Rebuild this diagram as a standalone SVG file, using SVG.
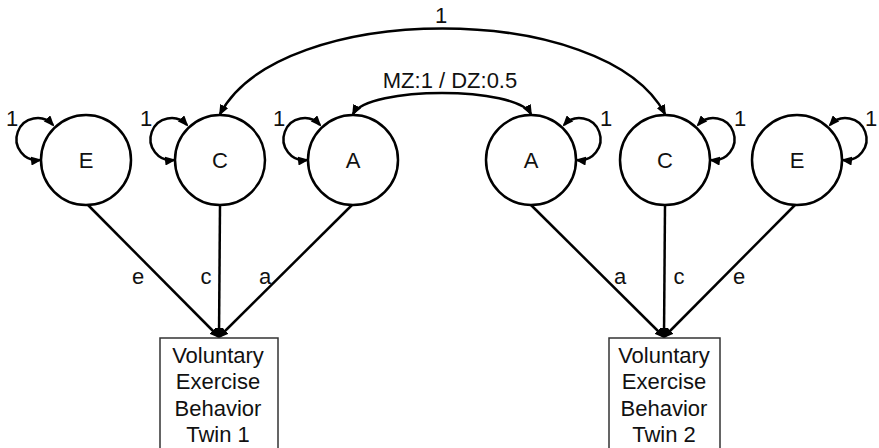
<svg xmlns="http://www.w3.org/2000/svg" width="879" height="448" viewBox="0 0 879 448">
<style>
.node circle{fill:#fff;stroke:#000;stroke-width:2.5}
.box rect{fill:#fff;stroke:#333;stroke-width:1.5}
text{font-family:"Liberation Sans",Arial,sans-serif;fill:#111;text-anchor:middle}
.lbl{font-size:22px}
.btxt{font-size:22px}
.edge{fill:none;stroke:#000;stroke-width:2.5}
.arr{marker-end:url(#ah)}
.dbl{marker-start:url(#ah);marker-end:url(#ah)}
</style>
<defs>
<marker id="ah" markerUnits="userSpaceOnUse" markerWidth="11" markerHeight="9" refX="9" refY="4.5" orient="auto-start-reverse" viewBox="0 0 11 9">
<path d="M0,0 L11,4.5 L0,9 z" fill="#000"/>
</marker>
</defs>
<rect width="879" height="448" fill="#fff"/>
<g id="connectors">
<path class="edge dbl" d="M53,125 A21,21 0 1 0 40,160"/>
<path class="edge dbl" d="M187,125 A21,21 0 1 0 174,160"/>
<path class="edge dbl" d="M320,125 A21,21 0 1 0 307,160"/>
<path class="edge dbl" d="M564,125 A21,21 0 1 1 577,160"/>
<path class="edge dbl" d="M698,125 A21,21 0 1 1 711,160"/>
<path class="edge dbl" d="M830,125 A21,21 0 1 1 843,160"/>
<path class="edge dbl" d="M220,114 C280,0 605,0 665,114"/>
<path class="edge dbl" d="M353,114 C368,86 516,86 531,114"/>
<path class="edge arr" d="M88,205 L219,337"/>
<path class="edge arr" d="M220,205 L219,337"/>
<path class="edge arr" d="M352,205 L219,337"/>
<path class="edge arr" d="M531,205 L664,337"/>
<path class="edge arr" d="M665,205 L664,337"/>
<path class="edge arr" d="M795,205 L664,337"/>
<text class="lbl" x="441" y="23">1</text>
<text class="lbl" x="450" y="88">MZ:1 / DZ:0.5</text>
<text class="lbl" x="12" y="126">1</text>
<text class="lbl" x="146" y="126">1</text>
<text class="lbl" x="279" y="126">1</text>
<text class="lbl" x="606" y="126">1</text>
<text class="lbl" x="740" y="126">1</text>
<text class="lbl" x="871" y="126">1</text>
<text class="lbl" x="138" y="284">e</text>
<text class="lbl" x="206" y="284">c</text>
<text class="lbl" x="265" y="284">a</text>
<text class="lbl" x="620" y="284">a</text>
<text class="lbl" x="679" y="284">c</text>
<text class="lbl" x="739" y="284">e</text>
</g>
<g id="E1" class="node"><circle cx="86" cy="160" r="45"/><text class="lbl" x="86" y="168">E</text></g>
<g id="C1" class="node"><circle cx="220" cy="160" r="45"/><text class="lbl" x="220" y="168">C</text></g>
<g id="A1" class="node"><circle cx="353" cy="160" r="45"/><text class="lbl" x="353" y="168">A</text></g>
<g id="A2" class="node"><circle cx="531" cy="160" r="45"/><text class="lbl" x="531" y="168">A</text></g>
<g id="C2" class="node"><circle cx="665" cy="160" r="45"/><text class="lbl" x="665" y="168">C</text></g>
<g id="E2" class="node"><circle cx="797" cy="160" r="45"/><text class="lbl" x="797" y="168">E</text></g>
<g id="twin1" class="box"><rect x="160" y="338" width="118" height="115"/>
<text class="btxt" x="218" y="363">Voluntary</text>
<text class="btxt" x="218" y="389">Exercise</text>
<text class="btxt" x="218" y="416">Behavior</text>
<text class="btxt" x="218" y="442">Twin 1</text></g>
<g id="twin2" class="box"><rect x="609" y="338" width="111" height="115"/>
<text class="btxt" x="664" y="363">Voluntary</text>
<text class="btxt" x="664" y="389">Exercise</text>
<text class="btxt" x="664" y="416">Behavior</text>
<text class="btxt" x="664" y="442">Twin 2</text></g>
</svg>
